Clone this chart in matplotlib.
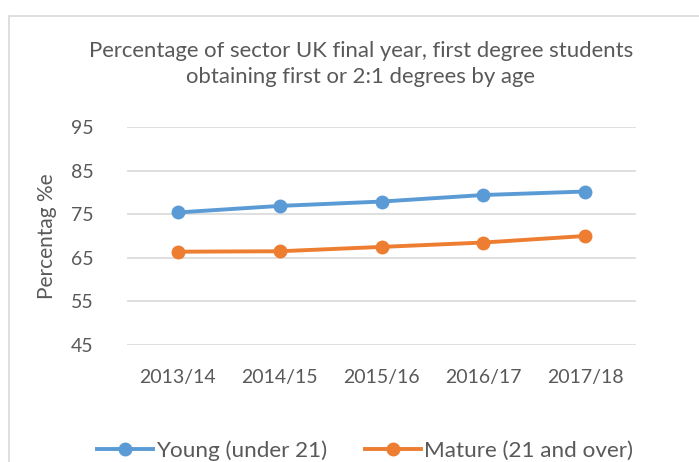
import matplotlib
matplotlib.use("Agg")
import matplotlib.pyplot as plt
from matplotlib.patches import Rectangle

years = ["2013/14", "2014/15", "2015/16", "2016/17", "2017/18"]
young = [75.4, 76.9, 77.9, 79.4, 80.2]
mature = [66.4, 66.5, 67.5, 68.5, 70.0]
yticks = [45, 55, 65, 75, 85, 95]

plt.rcParams['font.family'] = ['Lato', 'DejaVu Sans']
txt = '#595959'

W, H = 699, 462
fig = plt.figure(figsize=(W/100, H/100), dpi=100)
fig.patch.set_facecolor('white')

# chart border (cropped on right/bottom)
fig.add_artist(Rectangle((9/W, -0.05), 1.2, 1 - 16/H + 0.05, transform=fig.transFigure,
                         fill=False, edgecolor='#d9d9d9', linewidth=1.2))

ax = fig.add_axes([127/W, 1 - 345/H, (636-127)/W, (345-127)/H])
x = list(range(len(years)))
l1, = ax.plot(x, young, color='#5B9BD5', lw=2.8, marker='o', ms=9, label='Young (under 21)', zorder=3)
l2, = ax.plot(x, mature, color='#ED7D31', lw=2.8, marker='o', ms=9, label='Mature (21 and over)', zorder=3)

ax.set_xlim(-0.5, 4.5)
ax.set_ylim(45, 95)
ax.set_yticks(yticks)
ax.set_xticks(x)
ax.set_xticklabels(years)
ax.grid(axis='y', color='#d9d9d9', lw=1.2)
ax.set_axisbelow(True)
for s in ax.spines.values():
    s.set_visible(False)
ax.tick_params(length=0, labelsize=14, colors=txt)
ax.tick_params(axis='y', pad=24)
ax.tick_params(axis='x', pad=17)
ax.set_ylabel('Percentag %e', fontsize=15, color=txt, labelpad=10)

fig.text(361/W, 1 - 64/H, "Percentage of sector UK final year, first degree students\nobtaining first or 2:1 degrees by age",
         ha='center', va='center', fontsize=15.9, color=txt, linespacing=1.33)

fig.legend(handles=[l1, l2], loc='center', bbox_to_anchor=(365/W, 1 - 451/H), ncol=2, frameon=False,
           fontsize=16.2, labelcolor=txt, handlelength=2.5, handletextpad=0.12, columnspacing=1.7)

fig.savefig('out.png', dpi=100)
